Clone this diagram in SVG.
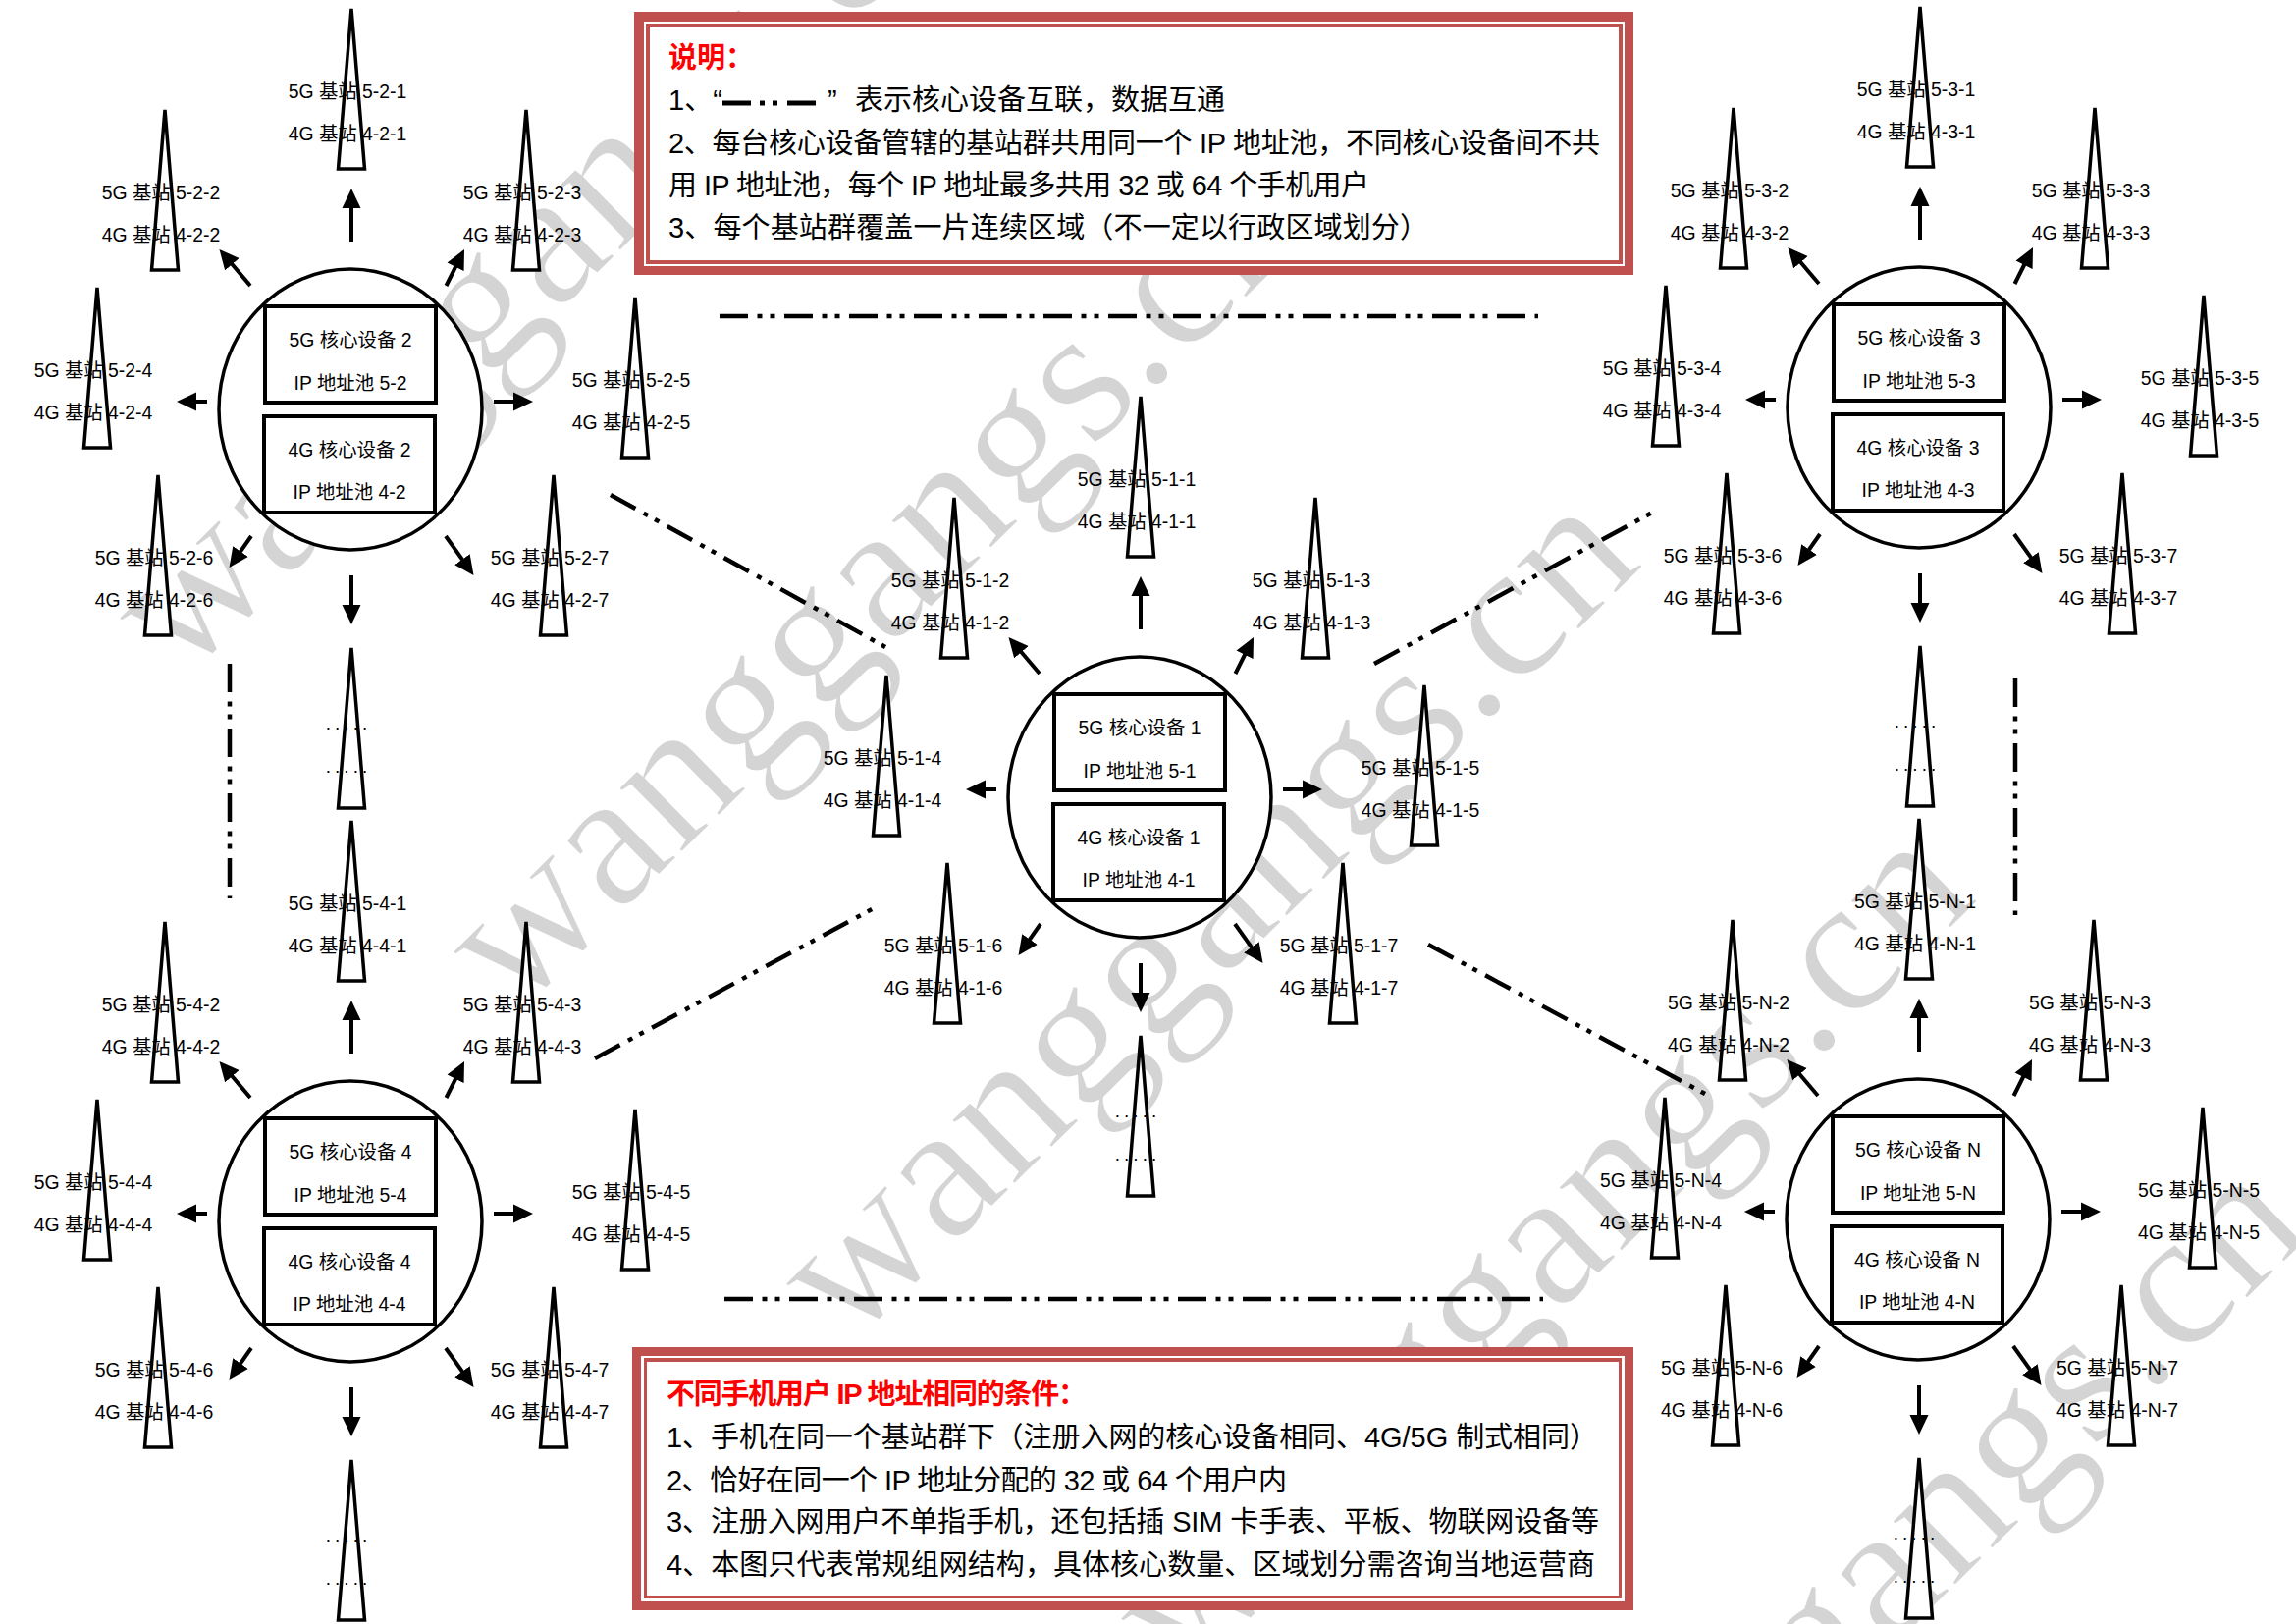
<svg xmlns="http://www.w3.org/2000/svg" width="2339" height="1654" viewBox="0 0 2339 1654">
<style>
text{font-family:"Liberation Sans","Noto Sans CJK SC",sans-serif;fill:#000}
.lbl{font-size:19.4px;text-anchor:middle}
.dots{font-size:19px;text-anchor:middle;letter-spacing:4px}
.note{font-size:29px}
.title{font-size:29px;font-weight:700;fill:#f00}
.wm{font-family:"Liberation Serif",serif;font-size:200px;fill:#d4d4d4;stroke:#fff;stroke-width:2}
.core{fill:#fff;stroke:#000;stroke-width:3.5}
.box{fill:#fff;stroke:#000;stroke-width:4}
.tw{fill:#fff;stroke:#000;stroke-width:3.5}
.sp{stroke:#000;stroke-width:4;fill:none;marker-end:url(#ah)}
.link{stroke:#000;stroke-width:4.5;fill:none;stroke-dasharray:29 9.5 5 8 5 9.5}
.red{fill:#c0504d}
.wh{fill:#fff}
</style>
<defs>
<marker id="ah" markerUnits="userSpaceOnUse" markerWidth="20" markerHeight="20" refX="11" refY="10" orient="auto"><path d="M0,0.5L20,10L0,19.5z" fill="#000"/></marker>
<polygon id="tower" class="tw" points="0,2 13.5,165 -13.5,165"/>
</defs>
<g id="watermark">
<text class="wm" transform="translate(185,695) rotate(-44.5)">wanggangs.cn</text>
<text class="wm" transform="translate(525,1035) rotate(-44.5)">wanggangs.cn</text>
<text class="wm" transform="translate(864,1373) rotate(-44.5)">wanggangs.cn</text>
<text class="wm" transform="translate(1205,1714) rotate(-44.5)">wanggangs.cn</text>
<text class="wm" transform="translate(1545,2054) rotate(-44.5)">wanggangs.cn</text>
</g>
<g id="connectors">
<line class="link" x1="733" y1="322" x2="1567" y2="322"/>
<line class="link" x1="738" y1="1323" x2="1572" y2="1323"/>
<line class="link" x1="234" y1="676" x2="234" y2="915"/>
<line class="link" x1="2053" y1="691" x2="2053" y2="932"/>
<line class="link" x1="622" y1="504" x2="902" y2="659"/>
<line class="link" x1="1400" y1="676" x2="1683" y2="522"/>
<line class="link" x1="606" y1="1078" x2="890" y2="925"/>
<line class="link" x1="1455" y1="962" x2="1737" y2="1114"/>
<g transform="translate(1161,812)"><line class="sp" x1="1" y1="-171" x2="1" y2="-216"/><line class="sp" x1="-102" y1="-126" x2="-127.7" y2="-156.2"/><line class="sp" x1="97.5" y1="-126" x2="112" y2="-155"/><line class="sp" x1="-146" y1="-8" x2="-168" y2="-8"/><line class="sp" x1="146" y1="-8" x2="177" y2="-8"/><line class="sp" x1="-101" y1="129" x2="-118.3" y2="153.6"/><line class="sp" x1="97" y1="129" x2="120.3" y2="161.7"/><line class="sp" x1="1" y1="169" x2="1" y2="210"/></g>
<g transform="translate(357,417)"><line class="sp" x1="1" y1="-171" x2="1" y2="-216"/><line class="sp" x1="-102" y1="-126" x2="-127.7" y2="-156.2"/><line class="sp" x1="97.5" y1="-126" x2="112" y2="-155"/><line class="sp" x1="-146" y1="-8" x2="-168" y2="-8"/><line class="sp" x1="146" y1="-8" x2="177" y2="-8"/><line class="sp" x1="-101" y1="129" x2="-118.3" y2="153.6"/><line class="sp" x1="97" y1="129" x2="120.3" y2="161.7"/><line class="sp" x1="1" y1="169" x2="1" y2="210"/></g>
<g transform="translate(1955,415)"><line class="sp" x1="1" y1="-171" x2="1" y2="-216"/><line class="sp" x1="-102" y1="-126" x2="-127.7" y2="-156.2"/><line class="sp" x1="97.5" y1="-126" x2="112" y2="-155"/><line class="sp" x1="-146" y1="-8" x2="-168" y2="-8"/><line class="sp" x1="146" y1="-8" x2="177" y2="-8"/><line class="sp" x1="-101" y1="129" x2="-118.3" y2="153.6"/><line class="sp" x1="97" y1="129" x2="120.3" y2="161.7"/><line class="sp" x1="1" y1="169" x2="1" y2="210"/></g>
<g transform="translate(357,1244)"><line class="sp" x1="1" y1="-171" x2="1" y2="-216"/><line class="sp" x1="-102" y1="-126" x2="-127.7" y2="-156.2"/><line class="sp" x1="97.5" y1="-126" x2="112" y2="-155"/><line class="sp" x1="-146" y1="-8" x2="-168" y2="-8"/><line class="sp" x1="146" y1="-8" x2="177" y2="-8"/><line class="sp" x1="-101" y1="129" x2="-118.3" y2="153.6"/><line class="sp" x1="97" y1="129" x2="120.3" y2="161.7"/><line class="sp" x1="1" y1="169" x2="1" y2="210"/></g>
<g transform="translate(1954,1242)"><line class="sp" x1="1" y1="-171" x2="1" y2="-216"/><line class="sp" x1="-102" y1="-126" x2="-127.7" y2="-156.2"/><line class="sp" x1="97.5" y1="-126" x2="112" y2="-155"/><line class="sp" x1="-146" y1="-8" x2="-168" y2="-8"/><line class="sp" x1="146" y1="-8" x2="177" y2="-8"/><line class="sp" x1="-101" y1="129" x2="-118.3" y2="153.6"/><line class="sp" x1="97" y1="129" x2="120.3" y2="161.7"/><line class="sp" x1="1" y1="169" x2="1" y2="210"/></g>
</g>

<g id="cluster-1" transform="translate(1161,812)">
<g id="core-1"><ellipse class="core" cx="0" cy="0" rx="134" ry="143"/><rect class="box" x="-87" y="-105" width="174" height="98"/><rect class="box" x="-88" y="7" width="174" height="98"/><text class="lbl" y="-64">5G 核心设备 1</text><text class="lbl" y="-20">IP 地址池 5-1</text><text class="lbl" x="-1" y="48">4G 核心设备 1</text><text class="lbl" x="-1" y="91">IP 地址池 4-1</text></g>
<g id="tower-1-1" transform="translate(1,-410)"><use href="#tower"/><text class="lbl" x="-4" y="93">5G 基站 5-1-1</text><text class="lbl" x="-4" y="136">4G 基站 4-1-1</text></g>
<g id="tower-1-2" transform="translate(-189,-307)"><use href="#tower"/><text class="lbl" x="-4" y="93">5G 基站 5-1-2</text><text class="lbl" x="-4" y="136">4G 基站 4-1-2</text></g>
<g id="tower-1-3" transform="translate(179,-307)"><use href="#tower"/><text class="lbl" x="-4" y="93">5G 基站 5-1-3</text><text class="lbl" x="-4" y="136">4G 基站 4-1-3</text></g>
<g id="tower-1-4" transform="translate(-258,-126)"><use href="#tower"/><text class="lbl" x="-4" y="93">5G 基站 5-1-4</text><text class="lbl" x="-4" y="136">4G 基站 4-1-4</text></g>
<g id="tower-1-5" transform="translate(290,-116)"><use href="#tower"/><text class="lbl" x="-4" y="93">5G 基站 5-1-5</text><text class="lbl" x="-4" y="136">4G 基站 4-1-5</text></g>
<g id="tower-1-6" transform="translate(-196,65)"><use href="#tower"/><text class="lbl" x="-4" y="93">5G 基站 5-1-6</text><text class="lbl" x="-4" y="136">4G 基站 4-1-6</text></g>
<g id="tower-1-7" transform="translate(207,65)"><use href="#tower"/><text class="lbl" x="-4" y="93">5G 基站 5-1-7</text><text class="lbl" x="-4" y="136">4G 基站 4-1-7</text></g>
<g id="tower-1-8" transform="translate(1,241)"><use href="#tower"/><text class="dots" x="-3" y="85">.....</text><text class="dots" x="-3" y="129">.....</text></g>
</g>

<g id="cluster-2" transform="translate(357,417)">
<g id="core-2"><ellipse class="core" cx="0" cy="0" rx="134" ry="143"/><rect class="box" x="-87" y="-105" width="174" height="98"/><rect class="box" x="-88" y="7" width="174" height="98"/><text class="lbl" y="-64">5G 核心设备 2</text><text class="lbl" y="-20">IP 地址池 5-2</text><text class="lbl" x="-1" y="48">4G 核心设备 2</text><text class="lbl" x="-1" y="91">IP 地址池 4-2</text></g>
<g id="tower-2-1" transform="translate(1,-410)"><use href="#tower"/><text class="lbl" x="-4" y="93">5G 基站 5-2-1</text><text class="lbl" x="-4" y="136">4G 基站 4-2-1</text></g>
<g id="tower-2-2" transform="translate(-189,-307)"><use href="#tower"/><text class="lbl" x="-4" y="93">5G 基站 5-2-2</text><text class="lbl" x="-4" y="136">4G 基站 4-2-2</text></g>
<g id="tower-2-3" transform="translate(179,-307)"><use href="#tower"/><text class="lbl" x="-4" y="93">5G 基站 5-2-3</text><text class="lbl" x="-4" y="136">4G 基站 4-2-3</text></g>
<g id="tower-2-4" transform="translate(-258,-126)"><use href="#tower"/><text class="lbl" x="-4" y="93">5G 基站 5-2-4</text><text class="lbl" x="-4" y="136">4G 基站 4-2-4</text></g>
<g id="tower-2-5" transform="translate(290,-116)"><use href="#tower"/><text class="lbl" x="-4" y="93">5G 基站 5-2-5</text><text class="lbl" x="-4" y="136">4G 基站 4-2-5</text></g>
<g id="tower-2-6" transform="translate(-196,65)"><use href="#tower"/><text class="lbl" x="-4" y="93">5G 基站 5-2-6</text><text class="lbl" x="-4" y="136">4G 基站 4-2-6</text></g>
<g id="tower-2-7" transform="translate(207,65)"><use href="#tower"/><text class="lbl" x="-4" y="93">5G 基站 5-2-7</text><text class="lbl" x="-4" y="136">4G 基站 4-2-7</text></g>
<g id="tower-2-8" transform="translate(1,241)"><use href="#tower"/><text class="dots" x="-3" y="85">.....</text><text class="dots" x="-3" y="129">.....</text></g>
</g>

<g id="cluster-3" transform="translate(1955,415)">
<g id="core-3"><ellipse class="core" cx="0" cy="0" rx="134" ry="143"/><rect class="box" x="-87" y="-105" width="174" height="98"/><rect class="box" x="-88" y="7" width="174" height="98"/><text class="lbl" y="-64">5G 核心设备 3</text><text class="lbl" y="-20">IP 地址池 5-3</text><text class="lbl" x="-1" y="48">4G 核心设备 3</text><text class="lbl" x="-1" y="91">IP 地址池 4-3</text></g>
<g id="tower-3-1" transform="translate(1,-410)"><use href="#tower"/><text class="lbl" x="-4" y="93">5G 基站 5-3-1</text><text class="lbl" x="-4" y="136">4G 基站 4-3-1</text></g>
<g id="tower-3-2" transform="translate(-189,-307)"><use href="#tower"/><text class="lbl" x="-4" y="93">5G 基站 5-3-2</text><text class="lbl" x="-4" y="136">4G 基站 4-3-2</text></g>
<g id="tower-3-3" transform="translate(179,-307)"><use href="#tower"/><text class="lbl" x="-4" y="93">5G 基站 5-3-3</text><text class="lbl" x="-4" y="136">4G 基站 4-3-3</text></g>
<g id="tower-3-4" transform="translate(-258,-126)"><use href="#tower"/><text class="lbl" x="-4" y="93">5G 基站 5-3-4</text><text class="lbl" x="-4" y="136">4G 基站 4-3-4</text></g>
<g id="tower-3-5" transform="translate(290,-116)"><use href="#tower"/><text class="lbl" x="-4" y="93">5G 基站 5-3-5</text><text class="lbl" x="-4" y="136">4G 基站 4-3-5</text></g>
<g id="tower-3-6" transform="translate(-196,65)"><use href="#tower"/><text class="lbl" x="-4" y="93">5G 基站 5-3-6</text><text class="lbl" x="-4" y="136">4G 基站 4-3-6</text></g>
<g id="tower-3-7" transform="translate(207,65)"><use href="#tower"/><text class="lbl" x="-4" y="93">5G 基站 5-3-7</text><text class="lbl" x="-4" y="136">4G 基站 4-3-7</text></g>
<g id="tower-3-8" transform="translate(1,241)"><use href="#tower"/><text class="dots" x="-3" y="85">.....</text><text class="dots" x="-3" y="129">.....</text></g>
</g>

<g id="cluster-4" transform="translate(357,1244)">
<g id="core-4"><ellipse class="core" cx="0" cy="0" rx="134" ry="143"/><rect class="box" x="-87" y="-105" width="174" height="98"/><rect class="box" x="-88" y="7" width="174" height="98"/><text class="lbl" y="-64">5G 核心设备 4</text><text class="lbl" y="-20">IP 地址池 5-4</text><text class="lbl" x="-1" y="48">4G 核心设备 4</text><text class="lbl" x="-1" y="91">IP 地址池 4-4</text></g>
<g id="tower-4-1" transform="translate(1,-410)"><use href="#tower"/><text class="lbl" x="-4" y="93">5G 基站 5-4-1</text><text class="lbl" x="-4" y="136">4G 基站 4-4-1</text></g>
<g id="tower-4-2" transform="translate(-189,-307)"><use href="#tower"/><text class="lbl" x="-4" y="93">5G 基站 5-4-2</text><text class="lbl" x="-4" y="136">4G 基站 4-4-2</text></g>
<g id="tower-4-3" transform="translate(179,-307)"><use href="#tower"/><text class="lbl" x="-4" y="93">5G 基站 5-4-3</text><text class="lbl" x="-4" y="136">4G 基站 4-4-3</text></g>
<g id="tower-4-4" transform="translate(-258,-126)"><use href="#tower"/><text class="lbl" x="-4" y="93">5G 基站 5-4-4</text><text class="lbl" x="-4" y="136">4G 基站 4-4-4</text></g>
<g id="tower-4-5" transform="translate(290,-116)"><use href="#tower"/><text class="lbl" x="-4" y="93">5G 基站 5-4-5</text><text class="lbl" x="-4" y="136">4G 基站 4-4-5</text></g>
<g id="tower-4-6" transform="translate(-196,65)"><use href="#tower"/><text class="lbl" x="-4" y="93">5G 基站 5-4-6</text><text class="lbl" x="-4" y="136">4G 基站 4-4-6</text></g>
<g id="tower-4-7" transform="translate(207,65)"><use href="#tower"/><text class="lbl" x="-4" y="93">5G 基站 5-4-7</text><text class="lbl" x="-4" y="136">4G 基站 4-4-7</text></g>
<g id="tower-4-8" transform="translate(1,241)"><use href="#tower"/><text class="dots" x="-3" y="85">.....</text><text class="dots" x="-3" y="129">.....</text></g>
</g>

<g id="cluster-N" transform="translate(1954,1242)">
<g id="core-N"><ellipse class="core" cx="0" cy="0" rx="134" ry="143"/><rect class="box" x="-87" y="-105" width="174" height="98"/><rect class="box" x="-88" y="7" width="174" height="98"/><text class="lbl" y="-64">5G 核心设备 N</text><text class="lbl" y="-20">IP 地址池 5-N</text><text class="lbl" x="-1" y="48">4G 核心设备 N</text><text class="lbl" x="-1" y="91">IP 地址池 4-N</text></g>
<g id="tower-N-1" transform="translate(1,-410)"><use href="#tower"/><text class="lbl" x="-4" y="93">5G 基站 5-N-1</text><text class="lbl" x="-4" y="136">4G 基站 4-N-1</text></g>
<g id="tower-N-2" transform="translate(-189,-307)"><use href="#tower"/><text class="lbl" x="-4" y="93">5G 基站 5-N-2</text><text class="lbl" x="-4" y="136">4G 基站 4-N-2</text></g>
<g id="tower-N-3" transform="translate(179,-307)"><use href="#tower"/><text class="lbl" x="-4" y="93">5G 基站 5-N-3</text><text class="lbl" x="-4" y="136">4G 基站 4-N-3</text></g>
<g id="tower-N-4" transform="translate(-258,-126)"><use href="#tower"/><text class="lbl" x="-4" y="93">5G 基站 5-N-4</text><text class="lbl" x="-4" y="136">4G 基站 4-N-4</text></g>
<g id="tower-N-5" transform="translate(290,-116)"><use href="#tower"/><text class="lbl" x="-4" y="93">5G 基站 5-N-5</text><text class="lbl" x="-4" y="136">4G 基站 4-N-5</text></g>
<g id="tower-N-6" transform="translate(-196,65)"><use href="#tower"/><text class="lbl" x="-4" y="93">5G 基站 5-N-6</text><text class="lbl" x="-4" y="136">4G 基站 4-N-6</text></g>
<g id="tower-N-7" transform="translate(207,65)"><use href="#tower"/><text class="lbl" x="-4" y="93">5G 基站 5-N-7</text><text class="lbl" x="-4" y="136">4G 基站 4-N-7</text></g>
<g id="tower-N-8" transform="translate(1,241)"><use href="#tower"/><text class="dots" x="-3" y="85">.....</text><text class="dots" x="-3" y="129">.....</text></g>
</g>

<g id="note-1">
<rect class="red" x="646" y="12" width="1018" height="268"/><rect class="wh" x="656" y="22" width="999" height="249"/><rect class="red" x="658" y="24" width="995" height="245"/><rect class="wh" x="662" y="27" width="987" height="238"/>
<text class="title" x="681" y="69">说明&#xFF1A;</text>
<text class="note" x="681" y="112">1、“</text>
<line x1="736" y1="105" x2="831" y2="105" stroke="#000" stroke-width="5" stroke-dasharray="29 9 5 8 5 10 29"/>
<text class="note" x="843" y="112">”</text>
<text class="note" x="871" y="112" textLength="377" lengthAdjust="spacing">表示核心设备互联&#xFF0C;数据互通</text>
<text class="note" x="681" y="156" textLength="949" lengthAdjust="spacing">2、每台核心设备管辖的基站群共用同一个 IP 地址池&#xFF0C;不同核心设备间不共</text>
<text class="note" x="681" y="199" textLength="714" lengthAdjust="spacing">用 IP 地址池&#xFF0C;每个 IP 地址最多共用 32 或 64 个手机用户</text>
<text class="note" x="681" y="242" textLength="774" lengthAdjust="spacing">3、每个基站群覆盖一片连续区域&#xFF08;不一定以行政区域划分&#xFF09;</text>
</g>
<g id="note-2">
<rect class="red" x="644" y="1372" width="1020" height="268"/><rect class="wh" x="653" y="1381" width="1002" height="250"/><rect class="red" x="656" y="1383" width="996" height="245"/><rect class="wh" x="659" y="1387" width="990" height="238"/>
<text class="title" x="679" y="1430" textLength="428" lengthAdjust="spacing">不同手机用户 IP 地址相同的条件&#xFF1A;</text>
<text class="note" x="679" y="1474" textLength="949" lengthAdjust="spacing">1、手机在同一个基站群下&#xFF08;注册入网的核心设备相同、4G/5G 制式相同&#xFF09;</text>
<text class="note" x="679" y="1518" textLength="632" lengthAdjust="spacing">2、恰好在同一个 IP 地址分配的 32 或 64 个用户内</text>
<text class="note" x="679" y="1560" textLength="950" lengthAdjust="spacing">3、注册入网用户不单指手机&#xFF0C;还包括插 SIM 卡手表、平板、物联网设备等</text>
<text class="note" x="679" y="1604" textLength="946" lengthAdjust="spacing">4、本图只代表常规组网结构&#xFF0C;具体核心数量、区域划分需咨询当地运营商</text>
</g>
</svg>
